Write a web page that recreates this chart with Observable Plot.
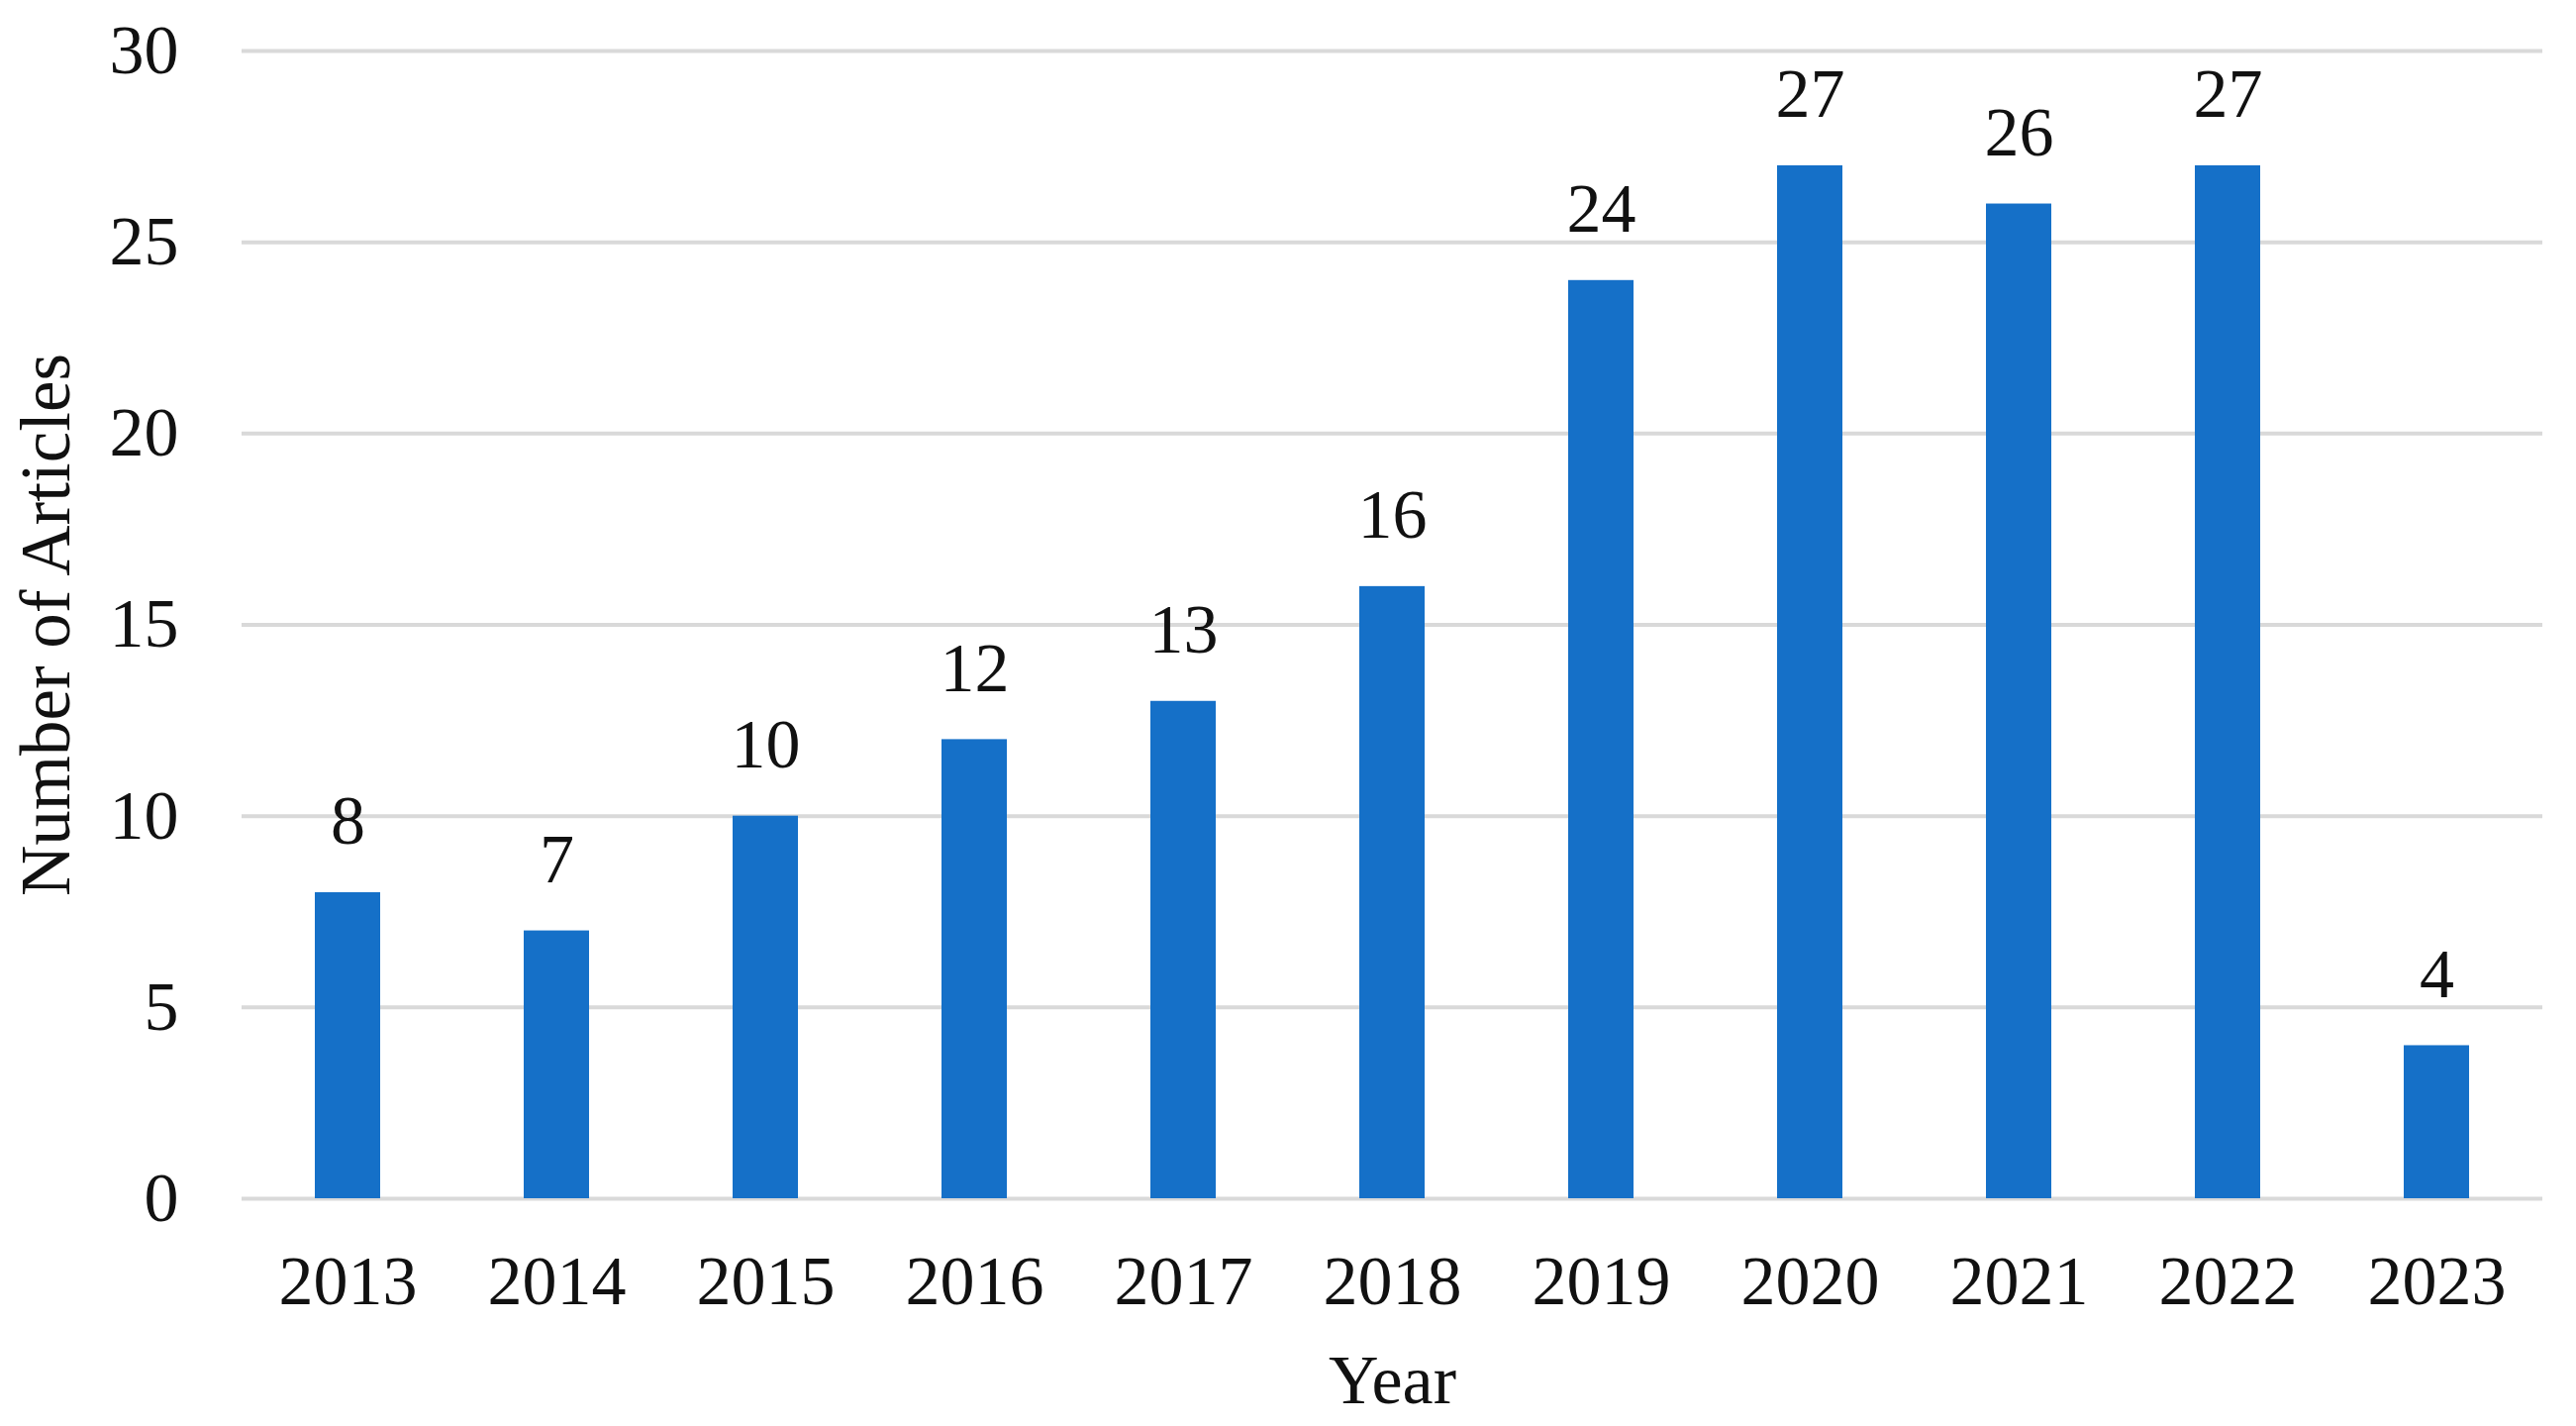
<!DOCTYPE html>
<html>
<head>
<meta charset="utf-8">
<script src="https://cdn.jsdelivr.net/npm/d3@7"></script>
<script src="https://cdn.jsdelivr.net/npm/@observablehq/plot@0.6"></script>
<style>
  html, body { margin: 0; padding: 0; background: #fff; }
  #chart svg { display: block; }
</style>
</head>
<body>
<div id="chart"></div>
<script>
const years = ["2013","2014","2015","2016","2017","2018","2019","2020","2021","2022","2023"];
const articles = [8, 7, 10, 12, 13, 16, 24, 27, 26, 27, 4];
const yTicks = [0, 5, 10, 15, 20, 25, 30];
const xTitle = "Year";
const yTitle = "Number of Articles";

const data = years.map((year, i) => ({year, count: articles[i]}));
const textColor = "#111";
const fs = 70;

const chart = Plot.plot({
  width: 2602,
  height: 1440,
  marginLeft: 244,
  marginRight: 34,
  marginTop: 51,
  marginBottom: 230,
  style: {fontFamily: "'Liberation Serif', 'Times New Roman', serif", fontSize: fs + "px", color: textColor, background: "#fff"},
  x: {domain: years, paddingInner: 0.688, paddingOuter: 0.3355, align: 0.5, label: null},
  y: {domain: [0, 30], label: null},
  marks: [
    Plot.ruleY(yTicks, {stroke: "#d9d9d9", strokeWidth: 4}),
    Plot.barY(data, {x: "year", y: "count", fill: "#1570c8"}),
    Plot.text(data, {x: "year", y: "count", text: d => String(d.count), lineAnchor: "bottom", dy: -49, fill: textColor, fontSize: fs}),
    Plot.axisY({ticks: yTicks, tickSize: 0, tickPadding: 64, label: null, fill: textColor, fontSize: fs}),
    Plot.axisX({tickSize: 0, tickPadding: 57, label: null, fill: textColor, fontSize: fs}),
    Plot.text([xTitle], {frameAnchor: "bottom", dy: 206, fill: textColor, fontSize: fs}),
    Plot.text([yTitle], {frameAnchor: "left", textAnchor: "middle", rotate: -90, dx: -197, fill: textColor, fontSize: 71})
  ]
});
document.getElementById("chart").appendChild(chart);
</script>
</body>
</html>
